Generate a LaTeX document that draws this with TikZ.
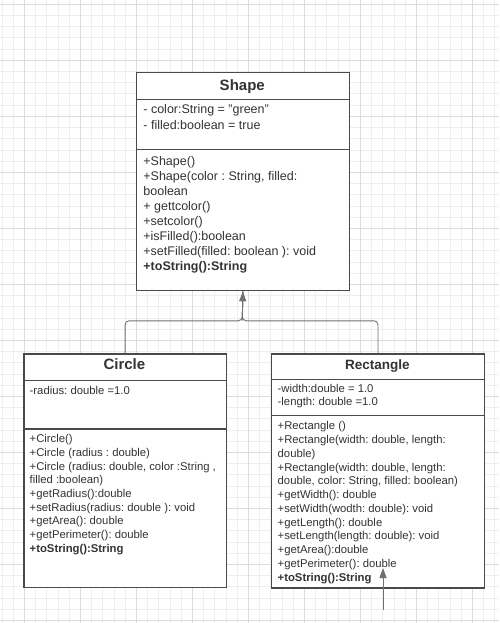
\documentclass[tikz,border=0pt]{standalone}
\usepackage{fontspec}
\setmainfont{Liberation Sans}
\usepackage{xcolor}
\usetikzlibrary{positioning,arrows.meta}
\definecolor{ink}{HTML}{333333}
\definecolor{edge}{HTML}{4A4A4A}
\definecolor{wirecol}{HTML}{707070}
\definecolor{gridminor}{HTML}{EEEEEE}
\definecolor{gridmajor}{HTML}{DCDCDC}
\frenchspacing

\begin{document}
\begin{tikzpicture}[
    x=1pt, y=-1pt,
    >={Triangle[length=10pt,width=7pt]},
    thick
]

\tikzstyle{classbox}=[
    rectangle,
    draw=edge,
    line width=1.3pt,
    fill=white,
    anchor=north west,
    inner sep=0pt
]
\tikzstyle{divider}=[draw=edge, line width=1.2pt]
\tikzstyle{title}=[text=ink, anchor=base, inner sep=0pt, font=\fontsize{15}{18}\selectfont\bfseries]
\tikzstyle{member}=[text=ink, anchor=base west, inner sep=0pt, font=\fontsize{11.3}{13.7}\selectfont]
\tikzstyle{bigmember}=[member, font=\fontsize{12.5}{15}\selectfont]
\tikzstyle{wire}=[draw=wirecol, line width=0.9pt, rounded corners=4pt]

\useasboundingbox (0,0) rectangle (499,623);

% grid paper
\foreach \i in {-2,...,42} \draw[gridminor, line width=0.8pt] ({24.3+11.2*\i},0) -- ({24.3+11.2*\i},623);
\foreach \j in {0,...,55} \draw[gridminor, line width=0.8pt] (0,{4.3+11.2*\j}) -- (499,{4.3+11.2*\j});
\foreach \i in {-1,...,8} \draw[gridmajor, line width=0.8pt] ({24.3+56*\i},0) -- ({24.3+56*\i},623);
\foreach \j in {0,...,11} \draw[gridmajor, line width=0.8pt] (0,{4.3+56*\j}) -- (499,{4.3+56*\j});

% classes
\node[classbox, minimum width=213.5pt, minimum height=218pt] (shape) at (135.5,72) {};
\node[classbox, minimum width=202.2pt, minimum height=233.7pt] (circle) at (23.3,353.3) {};
\node[classbox, minimum width=213.3pt, minimum height=234pt] (rect) at (270.7,353.3) {};

\draw[divider] ([yshift=-27.3pt]shape.north west) -- ([yshift=-27.3pt]shape.north east);
\draw[divider] ([yshift=-77.3pt]shape.north west) -- ([yshift=-77.3pt]shape.north east);
\draw[divider] ([yshift=-27pt]circle.north west) -- ([yshift=-27pt]circle.north east);
\draw[divider] ([yshift=-75.7pt]circle.north west) -- ([yshift=-75.7pt]circle.north east);
\draw[divider] ([yshift=-26pt]rect.north west) -- ([yshift=-26pt]rect.north east);
\draw[divider] ([yshift=-62pt]rect.north west) -- ([yshift=-62pt]rect.north east);

% Shape
\node[title] (shape-name) at (242.25,90.5) {Shape};
\node[bigmember] (shape-a0) at (143,113.8) {- color:String = "green"};
\node[bigmember] (shape-a1) at (143,129.8) {- filled:boolean = true};
\foreach \t [count=\k from 0] in {+Shape(), {+Shape(color : String, filled:}, boolean, + gettcolor(), +setcolor(), +isFilled():boolean, +setFilled(filled: boolean ): void}
    \node[bigmember] (shape-m\k) at (143,{165.2+15.09*\k}) {\t};
\node[bigmember, font=\fontsize{12.5}{15}\selectfont\bfseries] (shape-m7) at (143,{165.2+15.09*7}) {+toString():String};

% Circle
\node[title] (circle-name) at (124.4,369.3) {Circle};
\node[member] (circle-a0) at (29.3,394.3) {-radius: double =1.0};
\foreach \t [count=\k from 0] in {+Circle(), +Circle (radius : double), {+Circle (radius: double, color :String ,}, filled :boolean), +getRadius():double, +setRadius(radius: double ): void, +getArea(): double, +getPerimeter(): double}
    \node[member] (circle-m\k) at (29.3,{442.7+13.7*\k}) {\t};
\node[member, font=\fontsize{11.3}{13.7}\selectfont\bfseries] (circle-m8) at (29.3,{442.7+13.7*8}) {+toString():String};

% Rectangle
\node[title, font=\fontsize{13.5}{16}\selectfont\bfseries] (rect-name) at (377.35,369.3) {Rectangle};
\node[member] (rect-a0) at (277.3,392.7) {-width:double = 1.0};
\node[member] (rect-a1) at (277.3,405.7) {-length: double =1.0};
\foreach \t [count=\k from 0] in {+Rectangle (), {+Rectangle(width: double, length:}, double), {+Rectangle(width: double, length:}, {double, color: String, filled: boolean)}, +getWidth(): double, +setWidth(wodth: double): void, +getLength(): double, +setLength(length: double): void, +getArea():double, +getPerimeter(): double}
    \node[member] (rect-m\k) at (277.3,{429.7+13.78*\k}) {\t};
\node[member, font=\fontsize{11.3}{13.7}\selectfont\bfseries] (rect-m11) at (277.3,{429.7+13.78*11}) {+toString():String};

% inheritance
\coordinate (join) at (242.25,320.8);
\draw[wire] (circle.north) |- (join) -- (shape.south);
\draw[wire] (rect.north) |- (join) -- (shape.south);
\draw[wirecol, line width=0.9pt, ->] (join) -- (shape.south);

% loose arrow
\coordinate (tail) at (383,610);
\coordinate (tip) at (383,568);
\draw[wirecol, line width=0.9pt, ->] (tail) -- (tip);

\end{tikzpicture}
\end{document}
